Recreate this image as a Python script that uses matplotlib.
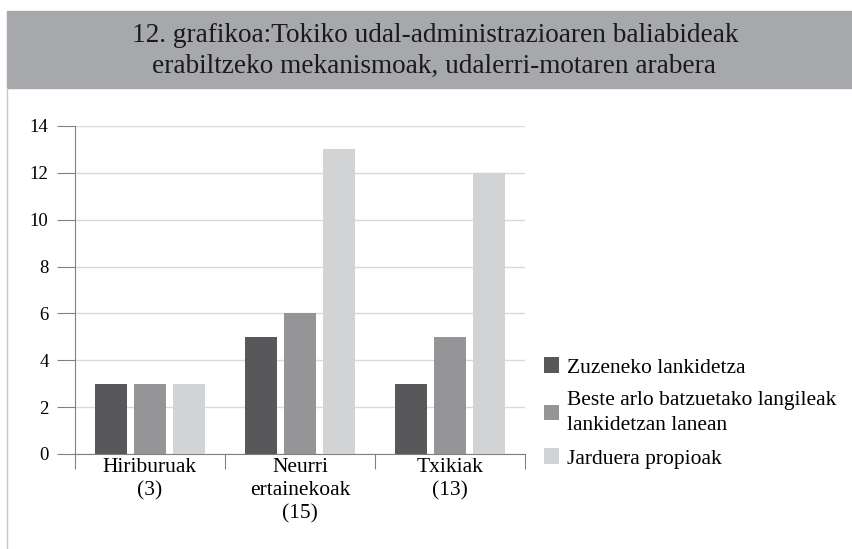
import numpy as np
import matplotlib.pyplot as plt
from matplotlib.patches import Rectangle
from matplotlib.lines import Line2D

# data
categories = ["Hiriburuak\n(3)", "Neurri\nertainekoak\n(15)", "Txikiak\n(13)"]
series_names = ["Zuzeneko lankidetza",
                "Beste arlo batzuetako langileak\nlankidetzan lanean",
                "Jarduera propioak"]
zuzeneko = [3, 5, 3]
beste_arlo = [3, 6, 5]
jarduera = [3, 13, 12]
colors = ["#58585a", "#959598", "#d2d3d5"]
title_lines = ["12. grafikoa:Tokiko udal-administrazioaren baliabideak",
               "erabiltzeko mekanismoak, udalerri-motaren arabera"]

def main():
	plt.rcParams['font.family'] = ['Liberation Serif', 'DejaVu Serif']
	fig = plt.figure(figsize=(8.53, 5.49), dpi=100)
	W, H = 853, 549

	# banner
	fig.patches.append(Rectangle((7 / W, 1 - 88 / H), 1, 77 / H,
		transform=fig.transFigure, color="#a7a8ab", zorder=0))
	fig.lines.append(Line2D([7.5 / W, 7.5 / W], [0, 1 - 88 / H],
		transform=fig.transFigure, color="#c8c8c8", lw=1))
	t1 = fig.text(435 / W, 1 - 42 / H, title_lines[0], ha="center", va="baseline",
		fontsize=19, color="#1a1a1a")
	# fit the first line to the banner text width of the reference
	r = fig.canvas.get_renderer()
	fs = 19 * 606 / t1.get_window_extent(r).width
	t1.set_fontsize(fs)
	fig.text(434 / W, 1 - 73 / H, title_lines[1], ha="center", va="baseline",
		fontsize=fs, color="#1a1a1a")

	ax = fig.add_axes([75 / W, 1 - 454 / H, 450 / W, 328 / H])
	x = np.arange(len(categories))
	w = 0.215
	step = 0.26
	for i, (vals, name) in enumerate(zip([zuzeneko, beste_arlo, jarduera], series_names)):
		ax.bar(x + (i - 1) * step, vals, w, color=colors[i], label=name, zorder=3)

	ax.set_xlim(-0.5, 2.5)
	ax.set_ylim(0, 14)
	ax.set_yticks(range(0, 15, 2))
	ax.yaxis.grid(True, color="#d9d9d9", lw=1, zorder=0)
	ax.set_xticks([-0.5, 0.5, 1.5, 2.5])
	ax.set_xticklabels([])
	ax.set_xticks(x, minor=True)
	ax.set_xticklabels(categories, minor=True, fontsize=15.5, linespacing=1.28)
	ax.tick_params(axis="x", which="major", length=11, color="#808080", direction="out")
	ax.tick_params(axis="x", which="minor", length=0, pad=3)
	ax.tick_params(axis="y", length=13, color="#808080", labelsize=13.5, pad=6)
	for s in ["top", "right"]:
		ax.spines[s].set_visible(False)
	for s in ["left", "bottom"]:
		ax.spines[s].set_color("#808080")

	leg = ax.legend(loc="center left", bbox_to_anchor=(525 / W, 1 - 413 / H),
		bbox_transform=fig.transFigure, frameon=False, fontsize=15.5,
		handlelength=0.7, handleheight=0.7, handletextpad=0.35,
		labelspacing=0.62)
	for t in leg.get_texts():
		t.set_linespacing(1.45)
	fig.savefig("out.png", dpi=100)

if __name__ == '__main__':
	main()
